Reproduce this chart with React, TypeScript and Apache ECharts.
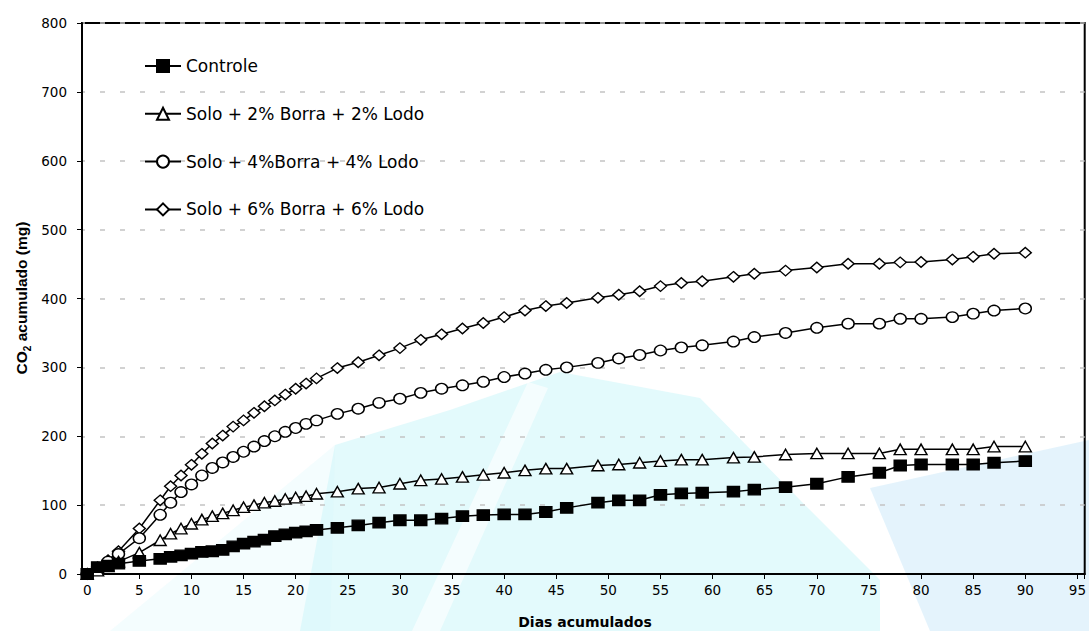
import React, { useEffect, useRef } from "react";
import * as echarts from "echarts";

// Days of incubation (x values)
const days = [0, 1, 2, 3, 5, 7, 8, 9, 10, 11, 12, 13, 14, 15, 16, 17, 18, 19, 20, 21, 22, 24, 26, 28, 30, 32, 34, 36, 38, 40, 42, 44, 46, 49, 51, 53, 55, 57, 59, 62, 64, 67, 70, 73, 76, 78, 80, 83, 85, 87, 90];

// Accumulated CO2 (mg)
const controle = [0, 10, 12, 15, 19, 22, 25, 27, 29.5, 32, 33, 35, 40, 44, 47, 50, 55, 57.5, 60, 62, 64, 67, 70.5, 74.5, 78, 78, 80.5, 84, 85.5, 86.5, 86.5, 90, 96, 103.5, 107, 107, 115, 117, 118, 119.5, 122.5, 126, 131, 141, 147, 157.5, 159, 159, 159, 161.5, 164];
const solo2 = [0, 5, 11, 18, 31, 49, 58.5, 66, 73, 79, 84, 88, 92.5, 97, 100, 103.5, 106, 109, 111, 113, 116.5, 119.5, 124, 125.5, 131, 136, 138, 141, 144, 147, 150.5, 153, 153, 157.5, 159, 161.5, 164, 166, 166, 169, 170, 173.5, 175, 175, 175, 181, 181, 181, 181, 185, 185];
const solo4 = [0, 8, 18, 29, 52, 86, 103.5, 119, 130, 143, 154, 162, 170, 177.5, 185, 193, 200, 206.5, 212, 218, 223, 232.5, 240, 248.5, 254.5, 263, 269, 274, 279, 286, 291, 296.5, 300, 306.5, 313, 318, 324.5, 329, 332, 337.5, 344, 350, 357.5, 363.5, 363.5, 370.5, 370.5, 373, 378, 382.5, 385.5];
const solo6 = [0, 10, 20, 33, 66, 107, 127.5, 143, 158.5, 174.5, 189.5, 201, 214, 223, 234, 243.5, 252, 260.5, 269, 276.5, 284, 299, 307.5, 317.5, 328, 340, 348, 356.5, 364.5, 373, 382.5, 389, 393.5, 401, 405.5, 410.5, 418, 422.5, 425, 431.5, 436, 440.5, 445, 450.5, 450.5, 452.5, 453, 456.5, 460.5, 465, 466.5];

const seriesNames = [
  "Controle",
  "Solo + 2% Borra + 2% Lodo",
  "Solo + 4%Borra + 4% Lodo",
  "Solo + 6% Borra + 6% Lodo",
];

const xTitle = "Dias acumulados";

function pairs(vals: number[]) {
  return days.map((d, i) => [d, vals[i]]);
}

export default function App() {
  const ref = useRef<HTMLDivElement>(null);

  useEffect(() => {
    document.body.style.margin = "0";
    const chart = echarts.init(ref.current!, null, { renderer: "svg" });

    const mk = (name: string, vals: number[], symbol: string, fill: string) => ({
      name,
      type: "line",
      data: pairs(vals),
      symbol,
      symbolSize: [12, 10.5],
      showSymbol: true,
      showAllSymbol: true,
      lineStyle: { color: "#000", width: 1.5 },
      itemStyle: { color: fill, borderColor: "#000", borderWidth: 1.4 },
      emphasis: { disabled: true },
      silent: true,
    });

    const option: any = {
      animation: false,
      backgroundColor: "#fff",
      grid: {
        left: 82,
        top: 23,
        width: 1005,
        height: 551,
        show: true,
        backgroundColor: "transparent",
        borderColor: "#000",
        borderWidth: 2,
      },
      legend: {
        data: seriesNames,
        orient: "vertical",
        left: 144,
        top: 56,
        padding: 0,
        itemWidth: 36,
        itemHeight: 15,
        itemGap: 27.8,
        selectedMode: false,
        textStyle: { fontFamily: "DejaVu Sans", fontSize: 17, color: "#000", lineHeight: 20 },
      },
      xAxis: {
        type: "value",
        min: -0.5,
        max: 95.7,
        splitNumber: 20,
        minInterval: 5,
        maxInterval: 5,
        axisLine: { show: true, onZero: false, lineStyle: { color: "#000", width: 2 } },
        axisTick: { show: true, length: 5, lineStyle: { color: "#000", width: 1 } },
        axisLabel: {
          margin: 9,
          fontFamily: "DejaVu Sans",
          fontSize: 13.5,
          color: "#000",
          showMinLabel: true,
          showMaxLabel: true,
          formatter: (v: number) => (Math.abs(v % 5) < 1e-6 && v >= 0 && v <= 95 ? String(v) : ""),
        },
        splitLine: { show: false },
      },
      yAxis: {
        type: "value",
        min: 0,
        max: 800,
        interval: 100,
        axisLine: { show: true, onZero: false, lineStyle: { color: "#000", width: 2 } },
        axisTick: { show: true, length: 5, lineStyle: { color: "#000", width: 1 } },
        axisLabel: { margin: 15, fontFamily: "DejaVu Sans", fontSize: 13.5, color: "#000" },
        splitLine: {
          show: true,
          lineStyle: { color: "#c4c4c4", width: 1.5, type: [5, 15], dashOffset: 2 },
        },
      },
      graphic: [
        // faint watermark shapes in background
        {
          type: "polygon",
          z: -10,
          silent: true,
          shape: { points: [[300, 631], [335, 445], [450, 410], [560, 372], [700, 398], [800, 500], [880, 580], [880, 631]] },
          style: { fill: "rgba(200, 246, 250, 0.5)" },
        },
        {
          type: "polygon",
          z: -9,
          silent: true,
          shape: { points: [[528, 382], [548, 388], [440, 631], [412, 631]] },
          style: { fill: "rgba(255, 255, 255, 0.6)" },
        },
        {
          type: "polygon",
          z: -10,
          silent: true,
          shape: { points: [[870, 488], [1089, 440], [1089, 631], [930, 631]] },
          style: { fill: "rgba(205, 234, 250, 0.55)" },
        },
        {
          type: "polygon",
          z: -10,
          silent: true,
          shape: { points: [[110, 631], [335, 445], [330, 631]] },
          style: { fill: "rgba(210, 247, 250, 0.25)" },
        },
        {
          type: "text",
          x: 585,
          y: 622,
          style: {
            text: xTitle,
            fontFamily: "DejaVu Sans",
            fontWeight: "bold",
            fontSize: 14,
            fill: "#000",
            align: "center",
            verticalAlign: "middle",
          },
        },
        {
          type: "text",
          x: 20,
          y: 298,
          rotation: Math.PI / 2,
          style: {
            text: "{a|CO}{s|2}{a| acumulado (mg)}",
            align: "center",
            verticalAlign: "middle",
            fill: "#000",
            rich: {
              a: { fontFamily: "Liberation Sans", fontWeight: "bold", fontSize: 15.5, lineHeight: 18, fill: "#000", verticalAlign: "bottom" },
              s: { fontFamily: "Liberation Sans", fontWeight: "bold", fontSize: 10, lineHeight: 12, fill: "#000", verticalAlign: "bottom", padding: [0, 0, -3, 0] },
            },
          },
        },
      ],
      series: [
        mk(seriesNames[3], solo6, "diamond", "#fff"),
        mk(seriesNames[2], solo4, "circle", "#fff"),
        mk(seriesNames[1], solo2, "triangle", "#fff"),
        mk(seriesNames[0], controle, "rect", "#000"),
      ],
    };

    chart.setOption(option);
    return () => chart.dispose();
  }, []);

  return <div ref={ref} style={{ width: 1089, height: 631, position: "absolute", left: 0, top: 0 }} />;
}
